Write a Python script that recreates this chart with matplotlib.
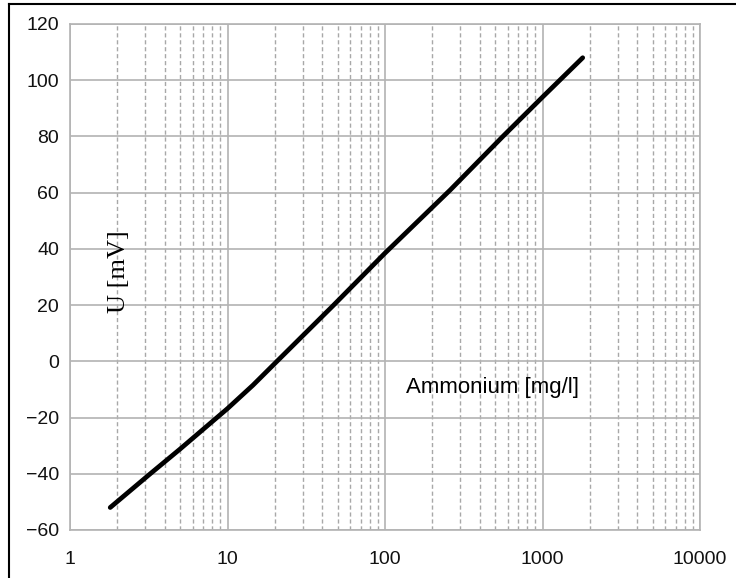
import numpy as np
import matplotlib
matplotlib.use('Agg')
import matplotlib.pyplot as plt
from matplotlib.lines import Line2D
from matplotlib.ticker import LogLocator, FixedLocator, NullFormatter

# kalibrierkurve ammonium
conc = np.array([1.8, 3.2, 5, 10, 14.5, 20.6, 46.8, 100, 260, 560, 1000, 1800])
u_mv = np.array([-52, -40.2, -31.2, -16.8, -8.5, 0, 19.8, 38.5, 61, 80, 94, 108])

x_ticks = [1, 10, 100, 1000, 10000]
x_labels = ['1', '10', '100', '1000', '10000']
y_ticks = np.arange(-60, 121, 20)

plt.rcParams['font.family'] = ['Liberation Sans', 'DejaVu Sans']

fig = plt.figure(figsize=(7.36, 5.78), dpi=100)
ax = fig.add_axes([70/736, 1 - 530/578, 630/736, 506/578])

# rahmen um die ganze grafik (links + oben)
fig.add_artist(Line2D([9/736, 9/736], [0, 1 - 4/578], color='black', lw=1.5,
                      transform=fig.transFigure))
fig.add_artist(Line2D([9/736, 1], [1 - 4/578, 1 - 4/578], color='black', lw=1.5,
                      transform=fig.transFigure))

ax.set_xscale('log')
ax.set_xlim(1, 10000)
ax.set_ylim(-60, 120)

ax.xaxis.set_major_locator(FixedLocator(x_ticks))
ax.set_xticklabels(x_labels)
ax.xaxis.set_minor_locator(LogLocator(base=10, subs=np.arange(2, 10), numticks=20))
ax.xaxis.set_minor_formatter(NullFormatter())
ax.set_yticks(y_ticks)

ax.grid(True, which='major', axis='both', color='#b3b3b3', lw=1.2, ls='-')
ax.grid(True, which='minor', axis='x', color='#a8a8a8', lw=1.0, ls=(0, (3, 2)))
ax.set_axisbelow(True)

for s in ax.spines.values():
    s.set_color('#b3b3b3')
    s.set_linewidth(1.2)

ax.tick_params(which='both', length=0, labelsize=14, colors='#111111')
ax.tick_params(axis='x', pad=15)
ax.tick_params(axis='y', pad=8)

ax.plot(conc, u_mv, color='black', lw=3.4, solid_capstyle='round', zorder=3)

ax.text(0.078, 0.51, 'U [mV]', transform=ax.transAxes, rotation=90,
        ha='center', va='center', fontsize=19, family='Liberation Serif')
ax.text(0.671, 0.281, 'Ammonium [mg/l]', transform=ax.transAxes,
        ha='center', va='center', fontsize=16)

plt.savefig('out.png', dpi=100)
